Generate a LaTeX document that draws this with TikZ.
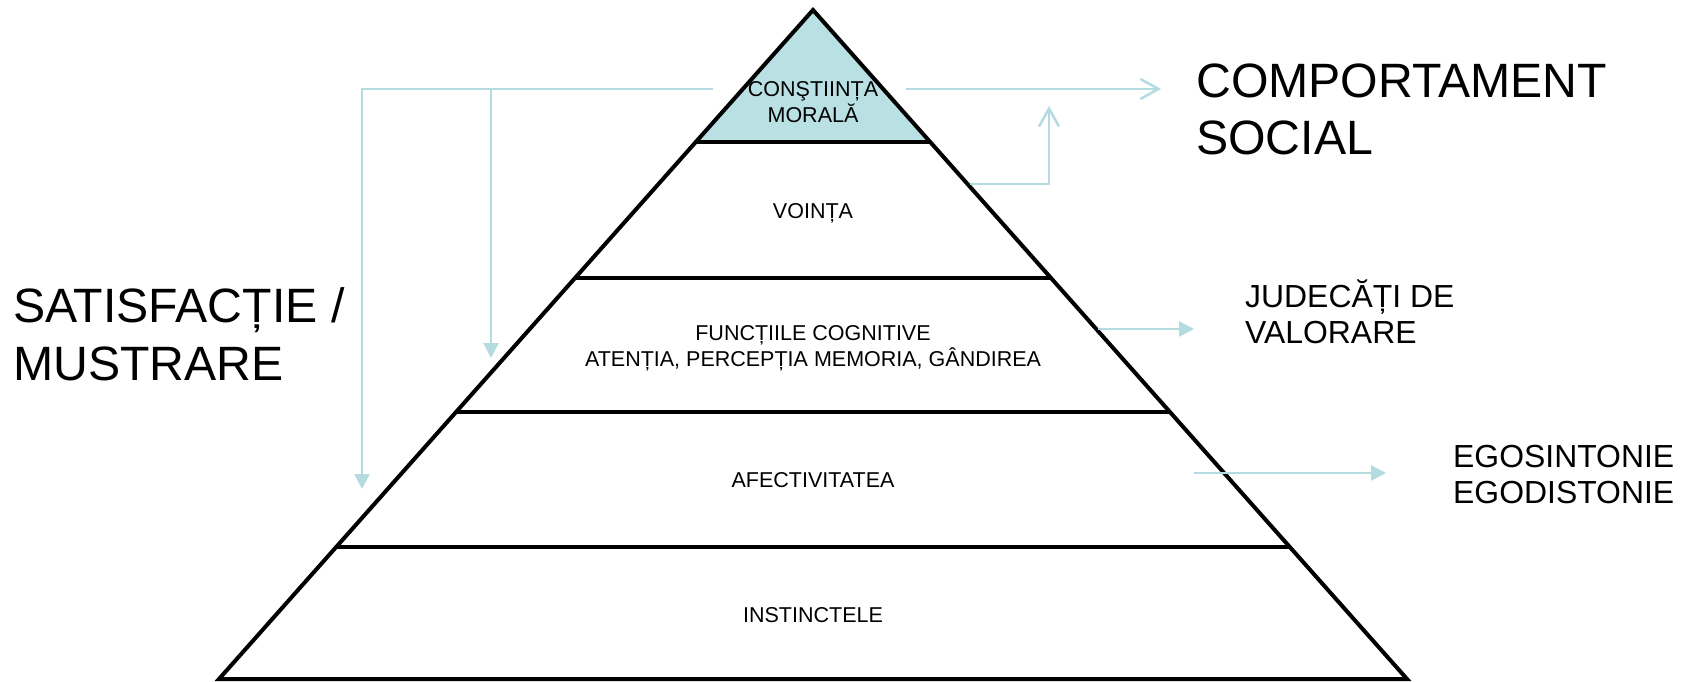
\documentclass[tikz,border=0pt]{standalone}
\usepackage{fontspec}
\setmainfont{Liberation Sans}
\usetikzlibrary{arrows.meta,calc}
\definecolor{tealfill}{RGB}{185,224,227}
\definecolor{linkc}{RGB}{180,220,224}
\begin{document}
\begin{tikzpicture}[x=1pt,y=-1pt,
  tier/.style={draw=black,line width=4pt},
  small/.style={font=\fontsize{21.5}{25.5}\selectfont,align=center,inner sep=0pt,anchor=base},
  big/.style={font=\fontsize{48.2}{58}\selectfont,align=left,inner sep=0pt,anchor=base west},
  mid/.style={font=\fontsize{31.9}{36}\selectfont,align=left,inner sep=0pt,anchor=base west},
  link/.style={draw=linkc,line width=2.5pt},
  filltip/.style={-{Triangle[length=15pt,width=15pt]}},
  opentip/.style={-{Straight Barb[length=18pt,width=20pt,line width=2.5pt]}}]
\useasboundingbox (0,0) rectangle (1695,682);
% pyramid corners
\coordinate (A) at (813,10);
\coordinate (BL) at (219,679);
\coordinate (BR) at (1407,679);
% tier boundaries
\coordinate (L1) at (695.8,142); \coordinate (R1) at (930.2,142);
\coordinate (L2) at (575.0,278); \coordinate (R2) at (1051.0,278);
\coordinate (L3) at (456.0,412); \coordinate (R3) at (1170.0,412);
\coordinate (L4) at (336.1,547); \coordinate (R4) at (1289.9,547);
% top tier fill
\fill[tealfill] (A) -- (L1) -- (R1) -- cycle;
% outline and tiers
\draw[tier,line join=miter] (BL) -- (A) -- (BR) -- cycle;
\draw[tier] (L1) -- (R1);
\draw[tier] (L2) -- (R2);
\draw[tier] (L3) -- (R3);
\draw[tier] (L4) -- (R4);
% tier labels (multi-line nodes: base anchor = last line baseline)
\node[small] (moral) at (813,122.5) {CONŞTIINȚA\\MORALĂ};
\node[small] (vointa) at (813,218.5) {VOINȚA};
\node[small,font=\fontsize{21.5}{26}\selectfont] (cogn) at (813,366) {FUNCȚIILE COGNITIVE\\ATENȚIA, PERCEPȚIA MEMORIA, GÂNDIREA};
\node[small] (afect) at (813,487.5) {AFECTIVITATEA};
\node[small] (instinct) at (813,622.5) {INSTINCTELE};
% outside labels
\node[big] (comp) at (1196,155) {COMPORTAMENT\\SOCIAL};
\node[big] (satis) at (13,380) {SATISFACȚIE /\\MUSTRARE};
\node[mid] (jud) at (1245,343) {JUDECĂȚI DE\\VALORARE};
\node[mid] (ego) at (1453,503) {EGOSINTONIE\\EGODISTONIE};
% connector points
\coordinate (cl) at (713,89);
\coordinate (t1) at (362,489);
\coordinate (j2) at (491,89);
\coordinate (t2) at (491,358);
\coordinate (cr) at (906,89);
\coordinate (tc) at (1161,89);
\coordinate (v0) at (970,184);
\coordinate (v1) at (1049,106);
\coordinate (ju0) at (1098,329);
\coordinate (ju1) at (1194,329);
\coordinate (eg0) at (1194,473);
\coordinate (eg1) at (1386,473);
% connectors
\draw[link,filltip] (cl) -| (t1);
\draw[link,filltip] (j2) -- (t2);
\draw[link,opentip] (cr) -- (tc);
\draw[link,opentip] (v0) -| (v1);
\draw[link,filltip] (ju0) -- (ju1);
\draw[link,filltip] (eg0) -- (eg1);
\end{tikzpicture}
\end{document}
